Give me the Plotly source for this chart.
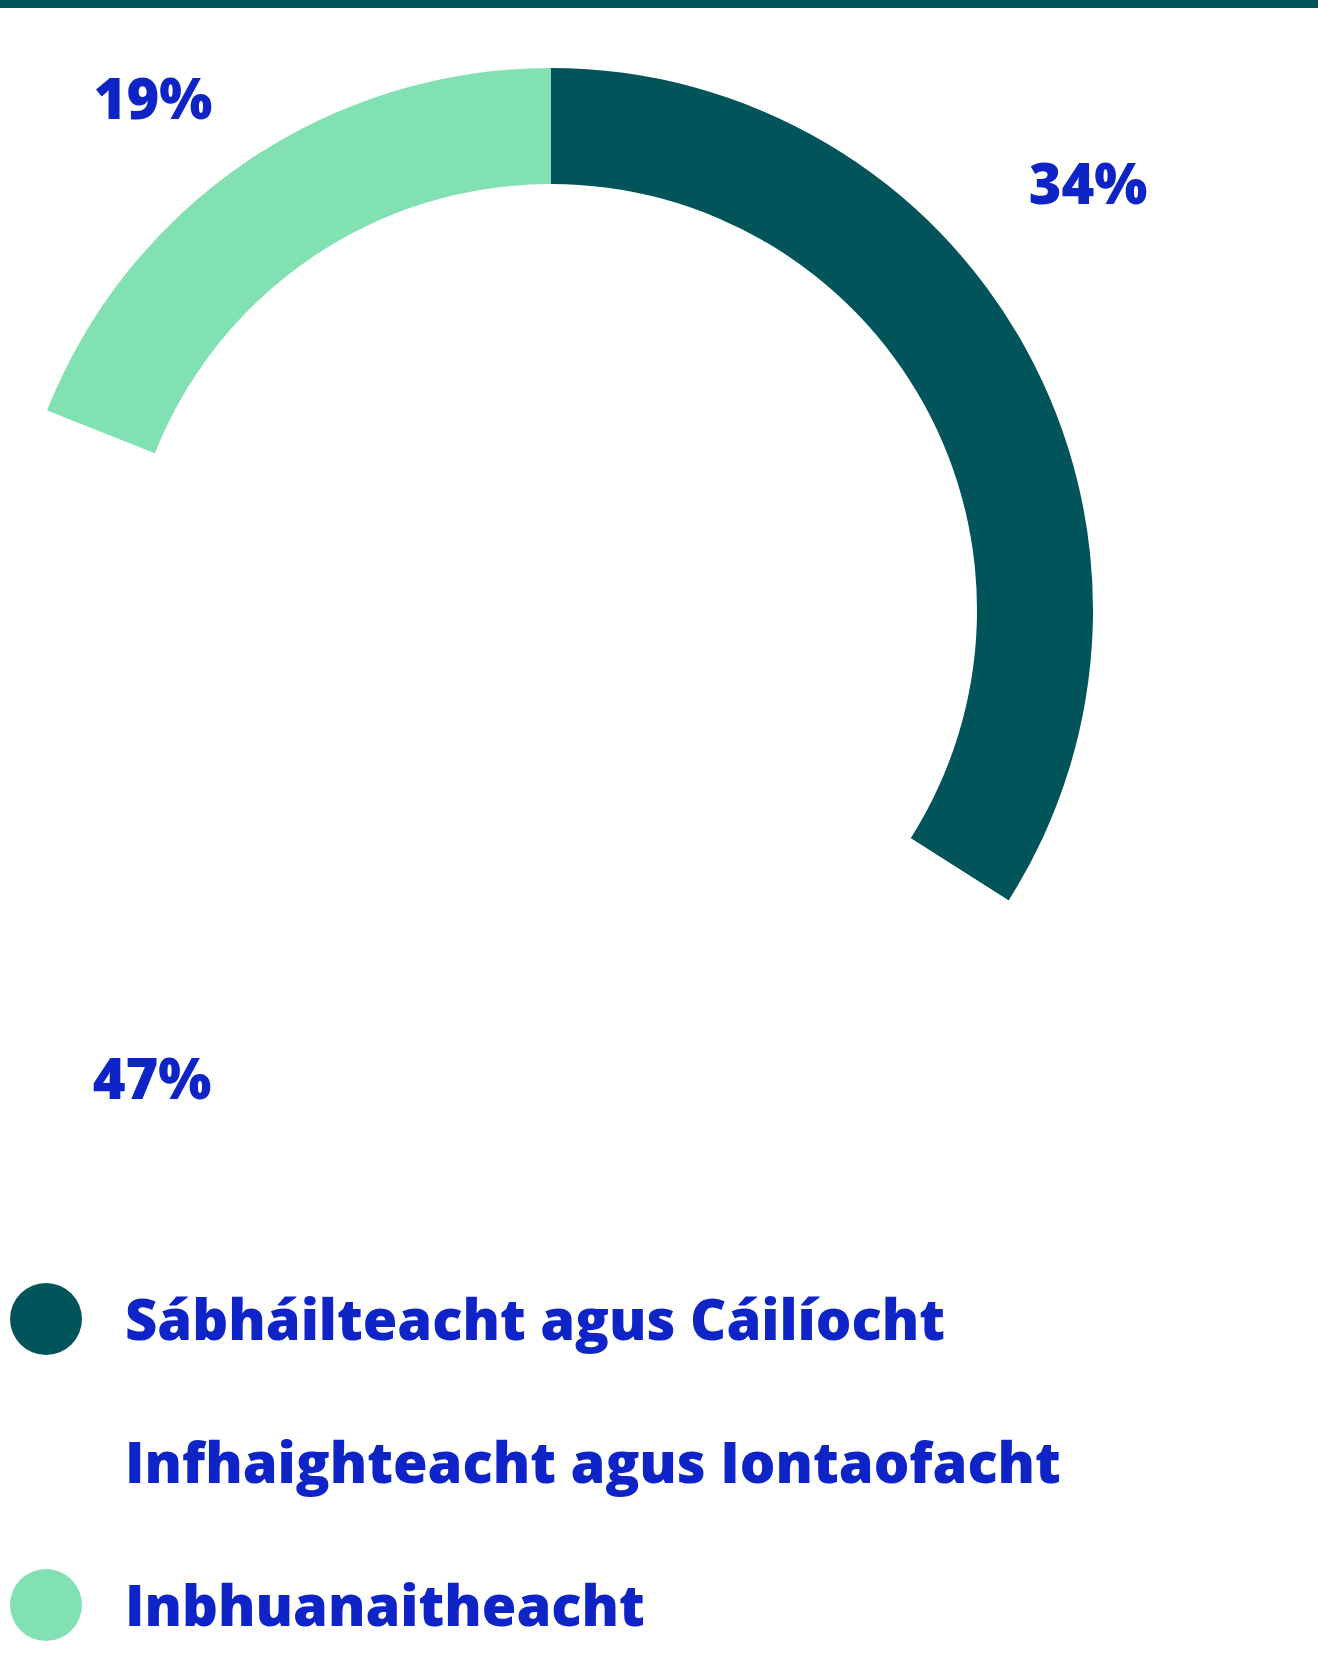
import plotly.graph_objects as go

W, H = 1318, 1654

categories = ["Sábháilteacht agus Cáilíocht", "Infhaighteacht agus Iontaofacht", "Inbhuanaitheacht"]
values = [34, 47, 19]
colors = ["#01555A", "#FFFFFF", "#81E1B2"]
text_color = "#0E24C6"
font_family = "Open Sans"

# label anchor points in pixel space (layout)
label_pos = [(1088, 190), (152, 1085), (153, 105)]
legend_rows_y = [1319, 1462, 1605]
legend_text_dy = 7

fig = go.Figure()

cx, cy, R = 551, 610, 542
fig.add_trace(go.Pie(
    values=values,
    labels=categories,
    marker=dict(colors=colors, line=dict(width=0)),
    hole=0.786,
    sort=False,
    direction="clockwise",
    rotation=0,
    textinfo="none",
    hoverinfo="label+percent",
    showlegend=False,
    domain=dict(x=[(cx - R) / W, (cx + R) / W], y=[(H - cy - R) / H, (H - cy + R) / H]),
))

# legend circles
fig.add_trace(go.Scatter(
    x=[46] * len(categories), y=legend_rows_y, mode="markers",
    marker=dict(size=72, color=colors, line=dict(width=0)),
    showlegend=False, hoverinfo="skip",
))
# legend text
fig.add_trace(go.Scatter(
    x=[125] * len(categories), y=[y + legend_text_dy for y in legend_rows_y], mode="text",
    text=categories, textposition="middle right",
    textfont=dict(family=font_family, size=56, color=text_color, weight=800),
    showlegend=False, hoverinfo="skip",
))
# percentage labels
fig.add_trace(go.Scatter(
    x=[p[0] for p in label_pos], y=[p[1] for p in label_pos], mode="text",
    text=[f"{v}%" for v in values], textposition="middle center",
    textfont=dict(family=font_family, size=56, color=text_color, weight=800),
    showlegend=False, hoverinfo="skip",
))

fig.update_layout(
    width=W, height=H,
    margin=dict(l=0, r=0, t=0, b=0),
    paper_bgcolor="white", plot_bgcolor="white",
    xaxis=dict(range=[0, W], visible=False, fixedrange=True),
    yaxis=dict(range=[H, 0], visible=False, fixedrange=True),
    shapes=[dict(type="rect", xref="paper", yref="paper", x0=0, x1=1,
                 y0=1 - 8 / H, y1=1, fillcolor="#01555A", line=dict(width=0), layer="above")],
)

fig.write_html("out.html", config={"displayModeBar": False},
               post_script="document.body.style.margin='0';")
